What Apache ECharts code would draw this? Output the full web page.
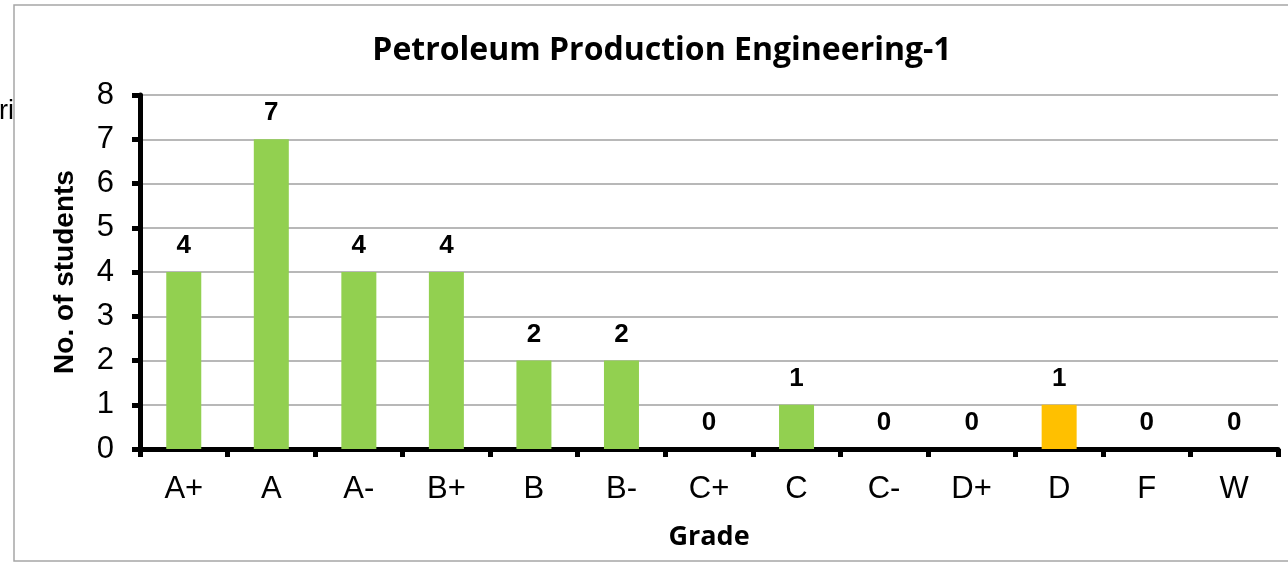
<!DOCTYPE html>
<html>
<head>
<meta charset="utf-8">
<script src="https://cdn.jsdelivr.net/npm/echarts@6/dist/echarts.min.js"></script>
<style>
  html, body { margin: 0; padding: 0; background: #fff; }
  #chart { width: 1288px; height: 562px; }
</style>
</head>
<body>
<div id="chart"></div>
<script>
// grades and counts
var grades = ['A+', 'A', 'A-', 'B+', 'B', 'B-', 'C+', 'C', 'C-', 'D+', 'D', 'F', 'W']
var students = [4, 7, 4, 4, 2, 2, 0, 1, 0, 0, 1, 0, 0]
var highlightGrade = 'D'

var chart = echarts.init(document.getElementById('chart'))
var option = {
  animation: false,
  textStyle: { fontFamily: 'Liberation Sans' },
  title: {
    text: 'Petroleum Production Engineering-1',
    left: 657,
    textAlign: 'center',
    top: 30,
    textStyle: {
      fontFamily: 'Open Sans',
      fontSize: 32,
      fontWeight: 'bold',
      color: '#000'
    }
  },
  graphic: [
    {
      type: 'rect',
      shape: { x: 14, y: 5, width: 1290, height: 556 },
      style: { fill: 'none', stroke: '#a6a6a6', lineWidth: 1.5 }
    },
    {
      type: 'text',
      left: -1,
      top: 98,
      style: { text: 'ri', font: '27px "Liberation Sans"', fill: '#000' }
    }
  ],
  grid: {
    left: 140,
    right: 10,
    top: 95,
    bottom: 113
  },
  xAxis: {
    type: 'category',
    data: grades,
    name: 'Grade',
    nameLocation: 'middle',
    nameGap: 75,
    nameTextStyle: { fontFamily: 'Open Sans', fontSize: 27, fontWeight: 'bold', color: '#000' },
    axisLine: { lineStyle: { color: '#000', width: 5 } },
    axisTick: { show: true, length: 8, lineStyle: { color: '#000', width: 5 } },
    axisLabel: { fontSize: 31, color: '#000', margin: 25 }
  },
  yAxis: {
    type: 'value',
    min: 0,
    max: 8,
    interval: 1,
    name: 'No. of students',
    nameLocation: 'middle',
    nameGap: 61,
    nameTextStyle: { fontSize: 28, fontWeight: 'bold', color: '#000' },
    axisLine: { show: true, lineStyle: { color: '#000', width: 5 } },
    axisTick: { show: true, length: 8, lineStyle: { color: '#000', width: 5 } },
    axisLabel: { fontSize: 31, color: '#000', margin: 26 },
    splitLine: { lineStyle: { color: '#a0a0a0', width: 1.5 } }
  },
  series: [
    {
      type: 'bar',
      data: students,
      barWidth: 35,
      itemStyle: {
        color: function (p) {
          return grades[p.dataIndex] === highlightGrade ? '#ffc000' : '#92d050'
        }
      },
      label: {
        show: true,
        position: 'top',
        distance: 13,
        fontSize: 26,
        fontWeight: 'bold',
        color: '#000'
      }
    }
  ]
}
chart.setOption(option)
</script>
</body>
</html>
